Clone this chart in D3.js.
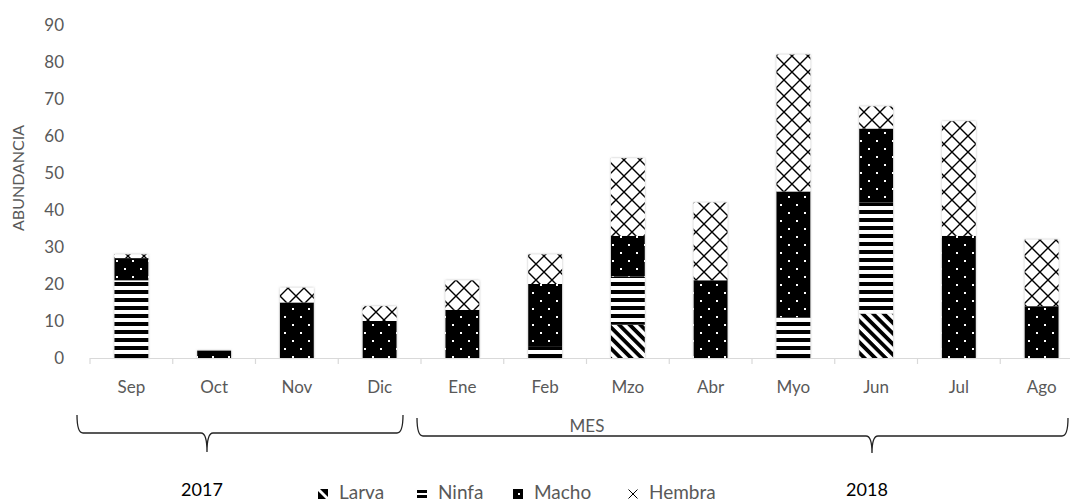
<!DOCTYPE html>
<html>
<head>
<meta charset="utf-8">
<script src="https://cdn.jsdelivr.net/npm/d3@7"></script>
<style>
  html, body { margin: 0; padding: 0; background: #fff; }
  svg { display: block; font-family: Lato, "Open Sans", sans-serif; }
</style>
</head>
<body>
<svg id="chart" width="1070" height="504"></svg>
<script>
// Monthly abundance by developmental stage, Sep 2017 – Aug 2018
const months = ["Sep", "Oct", "Nov", "Dic", "Ene", "Feb", "Mzo", "Abr", "Myo", "Jun", "Jul", "Ago"];
const larva  = [0, 0, 0, 0, 0, 0, 9, 0, 0, 12, 0, 0];
const ninfa  = [21, 0, 0, 0, 0, 3, 13, 0, 11, 30, 0, 0];
const macho  = [6, 2, 15, 10, 13, 17, 11, 21, 34, 20, 33, 14];
const hembra = [1, 0, 4, 4, 8, 8, 21, 21, 37, 6, 31, 18];
const stages = ["Larva", "Ninfa", "Macho", "Hembra"];
const yTicks = [0, 10, 20, 30, 40, 50, 60, 70, 80, 90];
const yearLabels = ["2017", "2018"];

const rows = months.map((m, i) => ({
  mes: m, Larva: larva[i], Ninfa: ninfa[i], Macho: macho[i], Hembra: hembra[i]
}));

const svg = d3.select("#chart");
const grey = "#595959";

const x = d3.scaleBand().domain(months).range([90, 1083]).paddingInner(0.59).paddingOuter(0.295);
const y = d3.scaleLinear().domain([0, 90]).range([358, 25]);
const step = x.step();

// ---- fill patterns ----
const defs = svg.append("defs");

const pLarva = defs.append("pattern").attr("id", "p-larva")
  .attr("patternUnits", "userSpaceOnUse").attr("width", 7.5).attr("height", 7.5)
  .attr("patternTransform", "rotate(45)");
pLarva.append("rect").attr("width", 7.5).attr("height", 7.5).attr("fill", "#fff");
pLarva.append("rect").attr("width", 7.5).attr("height", 3.8).attr("fill", "#000");

const pNinfa = defs.append("pattern").attr("id", "p-ninfa")
  .attr("patternUnits", "userSpaceOnUse").attr("width", 8).attr("height", 8).attr("y", 2);
pNinfa.append("rect").attr("width", 8).attr("height", 8).attr("fill", "#fff");
pNinfa.append("rect").attr("width", 8).attr("height", 4).attr("fill", "#000");

const pMacho = defs.append("pattern").attr("id", "p-macho")
  .attr("patternUnits", "userSpaceOnUse").attr("width", 16).attr("height", 16);
pMacho.append("rect").attr("width", 16).attr("height", 16).attr("fill", "#000");
pMacho.append("rect").attr("x", 4).attr("y", 4).attr("width", 2).attr("height", 2).attr("fill", "#fff");
pMacho.append("rect").attr("x", 12).attr("y", 12).attr("width", 2).attr("height", 2).attr("fill", "#fff");

const pHembra = defs.append("pattern").attr("id", "p-hembra")
  .attr("patternUnits", "userSpaceOnUse").attr("width", 16).attr("height", 16);
pHembra.append("rect").attr("width", 16).attr("height", 16).attr("fill", "#fff");
pHembra.append("path").attr("d", "M-2,-2L18,18M18,-2L-2,18")
  .attr("stroke", "#000").attr("stroke-width", 1.4).attr("fill", "none");

const shadow = defs.append("filter").attr("id", "halo")
  .attr("x", "-30%").attr("y", "-10%").attr("width", "160%").attr("height", "120%");
shadow.append("feDropShadow").attr("dx", 0).attr("dy", 0).attr("stdDeviation", 1.3)
  .attr("flood-color", "#777").attr("flood-opacity", 0.55);

const fills = { Larva: "url(#p-larva)", Ninfa: "url(#p-ninfa)", Macho: "url(#p-macho)", Hembra: "url(#p-hembra)" };

// ---- y axis labels ----
svg.append("g").selectAll("text").data(yTicks).join("text")
  .attr("x", 64).attr("y", d => y(d)).attr("dy", "0.35em")
  .attr("text-anchor", "end").attr("fill", grey).attr("font-size", 17)
  .text(d => d);

svg.append("text")
  .attr("transform", "translate(24,178) rotate(-90)")
  .attr("text-anchor", "middle").attr("fill", grey).attr("font-size", 16)
  .text("ABUNDANCIA");

// ---- stacked bars ----
const series = d3.stack().keys(stages)(rows);
const barLayer = svg.append("g").attr("filter", "url(#halo)");
barLayer.selectAll("g").data(series).join("g")
  .attr("fill", d => fills[d.key])
  .selectAll("rect").data(d => d.filter(s => s[1] > s[0])).join("rect")
  .attr("x", d => x(d.data.mes))
  .attr("width", x.bandwidth())
  .attr("y", d => y(d[1]))
  .attr("height", d => y(d[0]) - y(d[1]));

// ---- x axis ----
const axis = svg.append("g");
axis.append("line").attr("x1", 90).attr("x2", 1070).attr("y1", 358.5).attr("y2", 358.5)
  .attr("stroke", "#d9d9d9").attr("stroke-width", 1.2);
axis.selectAll("line.tick").data(d3.range(months.length + 1)).join("line")
  .attr("class", "tick")
  .attr("x1", i => 90 + i * step).attr("x2", i => 90 + i * step)
  .attr("y1", 358).attr("y2", 364)
  .attr("stroke", "#d9d9d9").attr("stroke-width", 1.2);
axis.selectAll("text").data(months).join("text")
  .attr("x", d => x(d) + x.bandwidth() / 2).attr("y", 393)
  .attr("text-anchor", "middle").attr("fill", grey).attr("font-size", 17)
  .text(d => d);

// ---- year braces (hand-placed annotation shapes) ----
function brace(x0, x1, xm, yTop, yLine, yTip) {
  const r = 6;
  return `M${x0},${yTop}Q${x0},${yLine} ${x0 + r},${yLine}L${xm - r},${yLine}` +
    `Q${xm},${yLine} ${xm},${yTip}Q${xm},${yLine} ${xm + r},${yLine}` +
    `L${x1 - r},${yLine}Q${x1},${yLine} ${x1},${yTop}`;
}
const braceGeo = [
  { x0: 77, x1: 403, xm: 207, yTop: 415, yLine: 433, yTip: 452, lx: 202 },
  { x0: 417, x1: 1068, xm: 872, yTop: 418, yLine: 436, yTip: 453, lx: 867 }
];
yearLabels.forEach((lab, i) => {
  const g = braceGeo[i];
  svg.append("path").attr("d", brace(g.x0, g.x1, g.xm, g.yTop, g.yLine, g.yTip))
    .attr("fill", "none").attr("stroke", "#222").attr("stroke-width", 1.3);
  svg.append("text").attr("x", g.lx).attr("y", 496)
    .attr("text-anchor", "middle").attr("fill", "#000").attr("font-size", 18)
    .text(lab);
});

svg.append("text").attr("x", 587).attr("y", 432)
  .attr("text-anchor", "middle").attr("fill", grey).attr("font-size", 17)
  .text("MES");

// ---- legend ----
const legendPos = { Larva: 318, Ninfa: 417, Macho: 513, Hembra: 628 };
const lg = svg.append("g");
stages.forEach(k => {
  const lx = legendPos[k], ly = 489;
  const item = lg.append("g").attr("transform", `translate(${lx},${ly})`);
  if (k === "Larva") {
    item.append("path").attr("d", "M0,2L8,10L0,10Z M2,0L10,0L10,8Z").attr("fill", "#000");
  } else if (k === "Ninfa") {
    item.append("rect").attr("x", 0).attr("y", 1).attr("width", 10).attr("height", 3).attr("fill", "#000");
    item.append("rect").attr("x", 0).attr("y", 6).attr("width", 10).attr("height", 3).attr("fill", "#000");
  } else if (k === "Macho") {
    item.append("rect").attr("width", 10).attr("height", 10).attr("fill", "#000");
    item.append("rect").attr("x", 5).attr("y", 4).attr("width", 2).attr("height", 2).attr("fill", "#fff");
  } else {
    item.append("path").attr("d", "M0.5,0.5L9.5,9.5M9.5,0.5L0.5,9.5")
      .attr("stroke", "#000").attr("stroke-width", 1).attr("fill", "none");
  }
  item.append("text").attr("x", 21).attr("y", 10)
    .attr("fill", grey).attr("font-size", 19).text(k);
});
</script>
</body>
</html>
